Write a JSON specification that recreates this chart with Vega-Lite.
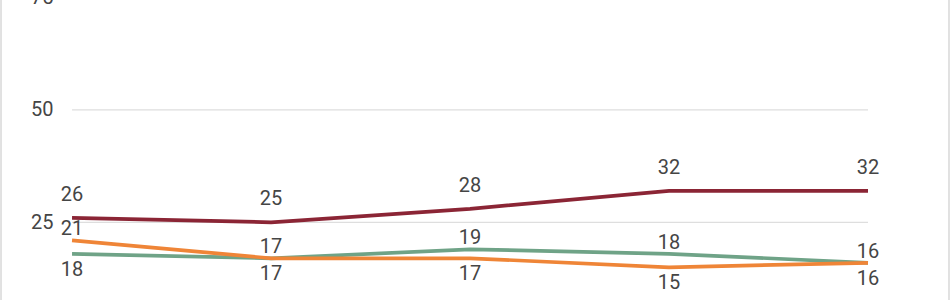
{
  "$schema": "https://vega.github.io/schema/vega-lite/v6.json",
  "autosize": {"type": "none"},
  "width": 948,
  "height": 337.5,
  "padding": {"left": 1, "top": -2.7, "right": 1, "bottom": 0},
  "background": "#ffffff",
  "config": {
    "font": "Roboto",
    "view": {"stroke": "#d8d8d8", "strokeWidth": 1.5}
  },
  "data": {
    "values": [
      {"period": 2019, "series": "Series A", "value": 26},
      {"period": 2020, "series": "Series A", "value": 25},
      {"period": 2021, "series": "Series A", "value": 28},
      {"period": 2022, "series": "Series A", "value": 32},
      {"period": 2023, "series": "Series A", "value": 32},
      {"period": 2019, "series": "Series B", "value": 18},
      {"period": 2020, "series": "Series B", "value": 17},
      {"period": 2021, "series": "Series B", "value": 19},
      {"period": 2022, "series": "Series B", "value": 18},
      {"period": 2023, "series": "Series B", "value": 16},
      {"period": 2019, "series": "Series C", "value": 21},
      {"period": 2020, "series": "Series C", "value": 17},
      {"period": 2021, "series": "Series C", "value": 17},
      {"period": 2022, "series": "Series C", "value": 15},
      {"period": 2023, "series": "Series C", "value": 16}
    ]
  },
  "layer": [
    {
      "data": {"values": [{"tick": 25}, {"tick": 50}, {"tick": 75}]},
      "mark": {"type": "rule", "color": "#dedede", "strokeWidth": 1.2},
      "encoding": {
        "x": {"datum": 2019, "type": "quantitative", "scale": {"domain": [2018.643, 2023.407], "nice": false, "zero": false}, "axis": null},
        "x2": {"datum": 2023, "type": "quantitative"},
        "y": {
          "field": "tick",
          "type": "quantitative",
          "scale": {"domain": [0, 75], "nice": false, "zero": false},
          "axis": {
            "values": [25, 50, 75],
            "title": null,
            "grid": false,
            "domain": false,
            "ticks": false,
            "tickSize": 0,
            "offset": -52,
            "labelPadding": 0,
            "labelFont": "Roboto",
            "labelFontSize": 20,
            "labelColor": "#454545"
          }
        }
      }
    },
    {
      "mark": {"type": "line", "strokeWidth": 3.7},
      "encoding": {
        "x": {
          "field": "period",
          "type": "quantitative",
          "scale": {"domain": [2018.643, 2023.407], "nice": false, "zero": false},
          "axis": null
        },
        "y": {"field": "value", "type": "quantitative"},
        "color": {
          "field": "series",
          "type": "nominal",
          "scale": {"domain": ["Series A", "Series B", "Series C"], "range": ["#8b2535", "#6fa387", "#ef8537"]},
          "legend": null
        }
      }
    },
    {
      "transform": [{"filter": "datum.series === 'Series A'"}],
      "mark": {"type": "text", "dy": -23, "fontSize": 20, "color": "#454545", "font": "Roboto"},
      "encoding": {
        "x": {"field": "period", "type": "quantitative"},
        "y": {"field": "value", "type": "quantitative"},
        "text": {"field": "value", "type": "quantitative"}
      }
    },
    {
      "transform": [
        {"filter": "datum.series !== 'Series A'"},
        {"window": [{"op": "row_number", "as": "rank"}], "groupby": ["period"], "sort": [{"field": "value", "order": "descending"}, {"field": "series", "order": "ascending"}]},
        {"filter": "datum.rank === 1"}
      ],
      "mark": {"type": "text", "dy": -11, "fontSize": 20, "color": "#454545", "font": "Roboto"},
      "encoding": {
        "x": {"field": "period", "type": "quantitative"},
        "y": {"field": "value", "type": "quantitative"},
        "text": {"field": "value", "type": "quantitative"}
      }
    },
    {
      "transform": [
        {"filter": "datum.series !== 'Series A'"},
        {"window": [{"op": "row_number", "as": "rank"}], "groupby": ["period"], "sort": [{"field": "value", "order": "descending"}, {"field": "series", "order": "ascending"}]},
        {"filter": "datum.rank === 2"}
      ],
      "mark": {"type": "text", "dy": 16, "fontSize": 20, "color": "#454545", "font": "Roboto"},
      "encoding": {
        "x": {"field": "period", "type": "quantitative"},
        "y": {"field": "value", "type": "quantitative"},
        "text": {"field": "value", "type": "quantitative"}
      }
    }
  ]
}
